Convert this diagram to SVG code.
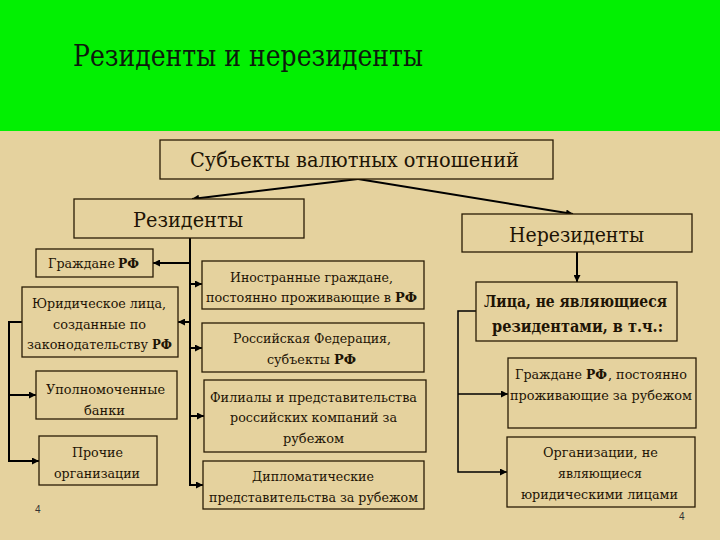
<svg xmlns="http://www.w3.org/2000/svg" width="720" height="540" viewBox="0 0 720 540">
<defs>
<style>
.bg{fill:#E5D29E}
.box{fill:#E5D29E;stroke:#2a1c06;stroke-width:1.3}
.t{font-family:"DejaVu Serif","Liberation Serif",serif;fill:#1e1405;text-anchor:middle;font-size:13px}
.s{text-anchor:start}
.h{font-size:21px}
.b{font-weight:bold}
.rf{font-size:12px}
.c{stroke:#000;stroke-width:2;fill:none}
.c1{stroke:#000;stroke-width:1.5;fill:none}
.n{font-family:"Liberation Sans",Arial,sans-serif;font-size:10px;fill:#333}
</style>
<marker id="a" viewBox="0 0 8 8" refX="8" refY="4" markerWidth="7" markerHeight="7" markerUnits="userSpaceOnUse" orient="auto">
<path d="M0,0 L8,4 L0,8 z" fill="#000"/>
</marker>
</defs>
<rect class="bg" x="0" y="0" width="720" height="540"/>
<rect x="0" y="0" width="720" height="131" fill="#02F002"/>
<text x="73" y="66" style="font-family:'DejaVu Serif','Liberation Serif',serif;font-size:29px" fill="#0d1a0d" textLength="350" lengthAdjust="spacingAndGlyphs">Резиденты и нерезиденты</text>

<g id="connectors">
<line class="c" x1="358" y1="179" x2="192" y2="199" marker-end="url(#a)"/>
<line class="c" x1="358" y1="179" x2="573" y2="214" marker-end="url(#a)"/>
<line class="c" x1="577" y1="252" x2="577" y2="282" marker-end="url(#a)"/>
<line class="c" x1="190" y1="238" x2="190" y2="486"/>
<line class="c" x1="190" y1="263" x2="153" y2="263" marker-end="url(#a)"/>
<line class="c" x1="190" y1="322" x2="178" y2="322" marker-end="url(#a)"/>
<line class="c" x1="189" y1="284" x2="202" y2="284" marker-end="url(#a)"/>
<line class="c" x1="189" y1="348" x2="202" y2="348" marker-end="url(#a)"/>
<line class="c" x1="189" y1="416" x2="204" y2="416" marker-end="url(#a)"/>
<line class="c" x1="189" y1="485" x2="203" y2="485" marker-end="url(#a)"/>
<path class="c" d="M22,322 H9 V461 H39" marker-end="url(#a)"/>
<line class="c" x1="9" y1="395" x2="36" y2="395" marker-end="url(#a)"/>
<path class="c1" d="M476,311 H458 V472 H507" marker-end="url(#a)"/>
<line class="c1" x1="458" y1="394" x2="508" y2="394" marker-end="url(#a)"/>
</g>

<g id="subjects">
<rect class="box" x="160" y="140" width="393" height="39"/>
<text class="t h" x="354.5" y="167" textLength="329" lengthAdjust="spacingAndGlyphs">Субъекты валютных отношений</text>
</g>
<g id="residents">
<rect class="box" x="74" y="199" width="230" height="39"/>
<text class="t h" x="188" y="227" textLength="110" lengthAdjust="spacingAndGlyphs">Резиденты</text>
</g>
<g id="nonresidents">
<rect class="box" x="462" y="214" width="230" height="38"/>
<text class="t h" x="576.5" y="242" textLength="135" lengthAdjust="spacingAndGlyphs">Нерезиденты</text>
</g>

<g id="citizens">
<rect class="box" x="36" y="249" width="117" height="28"/>
<text class="t s" x="48" y="268" textLength="67" lengthAdjust="spacingAndGlyphs">Граждане</text>
<text class="t s b rf" x="118" y="268" textLength="21" lengthAdjust="spacingAndGlyphs">РФ</text>
</g>
<g id="legal">
<rect class="box" x="22" y="287" width="156" height="70"/>
<text class="t" x="99" y="308" textLength="134" lengthAdjust="spacingAndGlyphs">Юридическое лица,</text>
<text class="t" x="99.5" y="329" textLength="93" lengthAdjust="spacingAndGlyphs">созданные по</text>
<text class="t s" x="27" y="349" textLength="121" lengthAdjust="spacingAndGlyphs">законодательству</text>
<text class="t s b rf" x="152" y="349" textLength="20" lengthAdjust="spacingAndGlyphs">РФ</text>
</g>
<g id="banks">
<rect class="box" x="36" y="371" width="141" height="48"/>
<text class="t" x="105.5" y="394" textLength="119" lengthAdjust="spacingAndGlyphs">Уполномоченные</text>
<text class="t" x="104.5" y="415" textLength="41" lengthAdjust="spacingAndGlyphs">банки</text>
</g>
<g id="other">
<rect class="box" x="39" y="436" width="118" height="49"/>
<text class="t" x="97.5" y="457" textLength="51" lengthAdjust="spacingAndGlyphs">Прочие</text>
<text class="t" x="97" y="478" textLength="86" lengthAdjust="spacingAndGlyphs">организации</text>
</g>

<g id="foreign">
<rect class="box" x="202" y="261" width="222" height="48"/>
<text class="t" x="311.5" y="282" textLength="163" lengthAdjust="spacingAndGlyphs">Иностранные граждане,</text>
<text class="t s" x="206" y="302" textLength="185" lengthAdjust="spacingAndGlyphs">постоянно проживающие в</text>
<text class="t s b rf" x="395" y="302" textLength="22" lengthAdjust="spacingAndGlyphs">РФ</text>
</g>
<g id="federation">
<rect class="box" x="202" y="323" width="222" height="49"/>
<text class="t" x="312" y="343" textLength="158" lengthAdjust="spacingAndGlyphs">Российская Федерация,</text>
<text class="t s" x="267" y="364" textLength="63" lengthAdjust="spacingAndGlyphs">субъекты</text>
<text class="t s b rf" x="334" y="364" textLength="22" lengthAdjust="spacingAndGlyphs">РФ</text>
</g>
<g id="branches">
<rect class="box" x="204" y="380" width="222" height="72"/>
<text class="t" x="313.5" y="402" textLength="207" lengthAdjust="spacingAndGlyphs">Филиалы и представительства</text>
<text class="t" x="313.5" y="422" textLength="167" lengthAdjust="spacingAndGlyphs">российских компаний за</text>
<text class="t" x="313.5" y="443" textLength="61" lengthAdjust="spacingAndGlyphs">рубежом</text>
</g>
<g id="diplomatic">
<rect class="box" x="203" y="461" width="221" height="48"/>
<text class="t" x="313" y="481" textLength="122" lengthAdjust="spacingAndGlyphs">Дипломатические</text>
<text class="t" x="313.5" y="502" textLength="209" lengthAdjust="spacingAndGlyphs">представительства за рубежом</text>
</g>

<g id="nonres-persons">
<rect class="box" x="476" y="282" width="201" height="59"/>
<text class="t b" x="575.5" y="307" textLength="183" lengthAdjust="spacingAndGlyphs" style="font-size:17px">Лица, не являющиеся</text>
<text class="t b" x="577.5" y="332" textLength="171" lengthAdjust="spacingAndGlyphs" style="font-size:17px">резидентами, в т.ч.:</text>
</g>
<g id="citizens-abroad">
<rect class="box" x="508" y="358" width="188" height="70"/>
<text class="t s" x="515" y="379" textLength="67" lengthAdjust="spacingAndGlyphs">Граждане</text>
<text class="t s b rf" x="586" y="379" textLength="21" lengthAdjust="spacingAndGlyphs">РФ</text>
<text class="t s" x="608" y="379" textLength="79" lengthAdjust="spacingAndGlyphs">, постоянно</text>
<text class="t" x="601" y="400" textLength="182" lengthAdjust="spacingAndGlyphs">проживающие за рубежом</text>
</g>
<g id="non-legal">
<rect class="box" x="507" y="437" width="188" height="70"/>
<text class="t" x="600.5" y="457" textLength="115" lengthAdjust="spacingAndGlyphs">Организации, не</text>
<text class="t" x="600" y="478" textLength="84" lengthAdjust="spacingAndGlyphs">являющиеся</text>
<text class="t" x="599.5" y="499" textLength="157" lengthAdjust="spacingAndGlyphs">юридическими лицами</text>
</g>

<text class="n" x="35" y="513">4</text>
<text class="n" x="679" y="520">4</text>
</svg>
